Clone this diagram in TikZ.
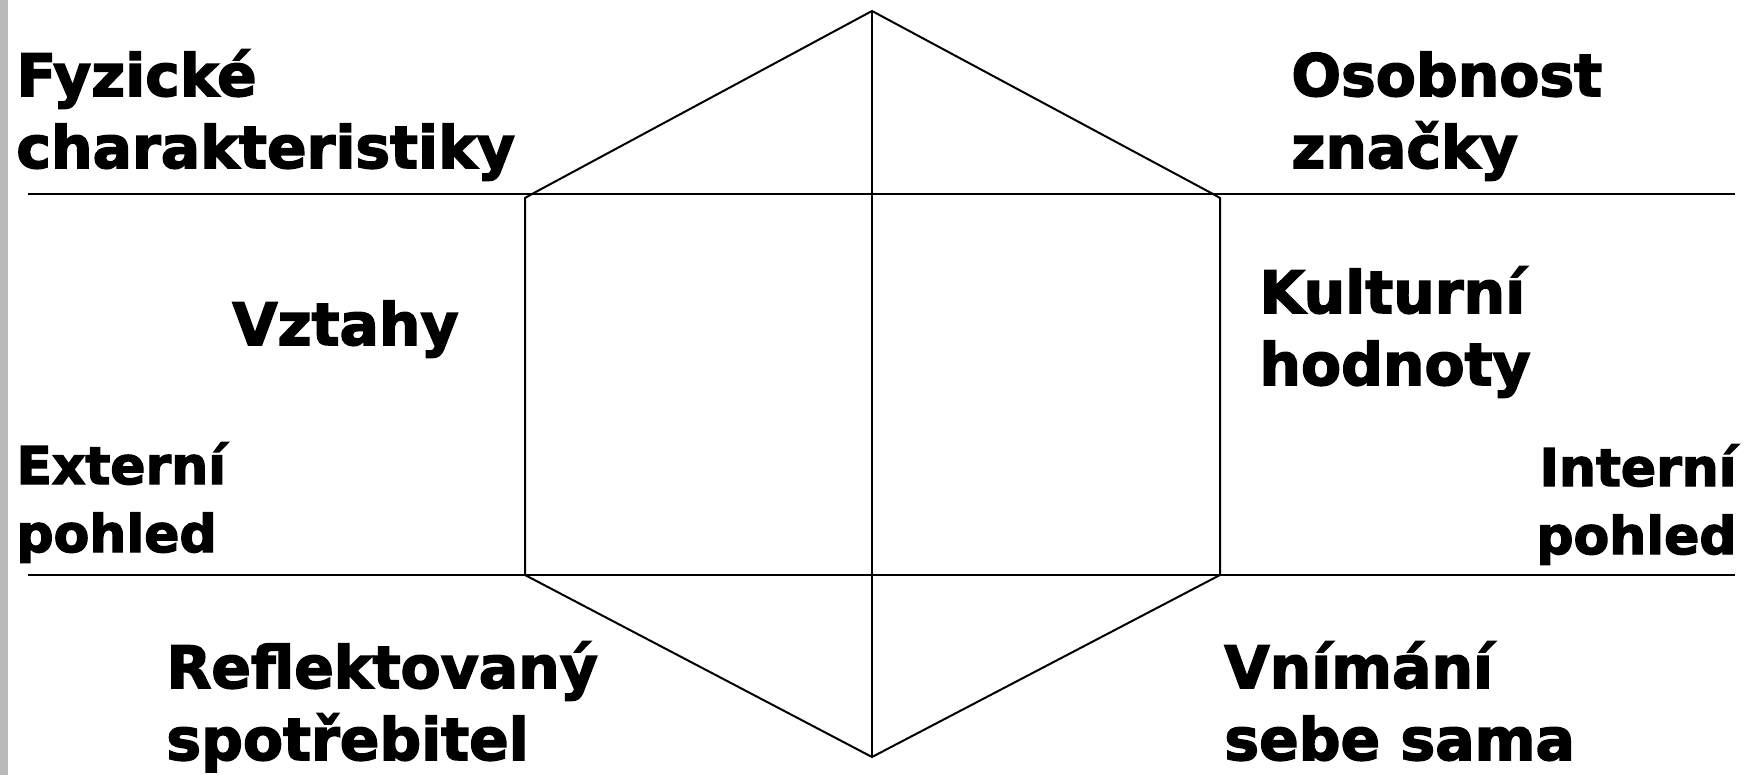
\documentclass[tikz,border=0pt]{standalone}
\usepackage{fontspec}
\setmainfont[BoldFeatures={FakeBold=2.6}]{DejaVu Sans}
\usepackage{tikz}

\begin{document}
\begin{tikzpicture}[
      x=0.5pt, y=-0.5pt,
      facet/.style={font={\fontsize{29.2}{36}\selectfont\bfseries}, align=left, inner sep=0pt, anchor=base west},
      side/.style={font={\fontsize{26}{34}\selectfont\bfseries}, inner sep=0pt},
      prism/.style={draw=black, line width=1pt, line join=miter}
    ]
    \useasboundingbox (0,0) rectangle (1757,775);
    \fill[white] (0,0) rectangle (1757,775);
    \fill[gray!55] (0,0) rectangle (8,775);

    % corners of the prism
    \coordinate (top) at (872,11);
    \coordinate (ul) at (525,198);
    \coordinate (ll) at (525,575);
    \coordinate (bot) at (872,757);
    \coordinate (lr) at (1220,575);
    \coordinate (ur) at (1220,198);

    \draw[prism] (top) -- (532,194) -- (ul) -- (ll) -- (bot) -- (lr) -- (ur) -- (1213,194) -- cycle;
    \draw[prism] (top) -- (bot);
    \draw[prism] (28,194) -- (1735,194);
    \draw[prism] (28,575) -- (1735,575);

    % base = baseline of the last line
    \node[facet] (fyz) at (16,168) {Fyzické\\charakteristiky};
    \node[facet] (osob) at (1291,168) {Osobnost\\značky};
    \node[facet] (vzt) at (232,345) {Vztahy};
    \node[facet] (kult) at (1259,385) {Kulturní\\hodnoty};
    \node[side, align=left, anchor=base west] (ext) at (16,552) {Externí\\pohled};
    \node[side, align=right, anchor=base east] (int) at (1737,554) {Interní\\pohled};
    \node[facet] (refl) at (166,760) {Reflektovaný\\spotřebitel};
    \node[facet] (vnim) at (1224,760) {Vnímání\\sebe sama};
  \end{tikzpicture}
\end{document}
